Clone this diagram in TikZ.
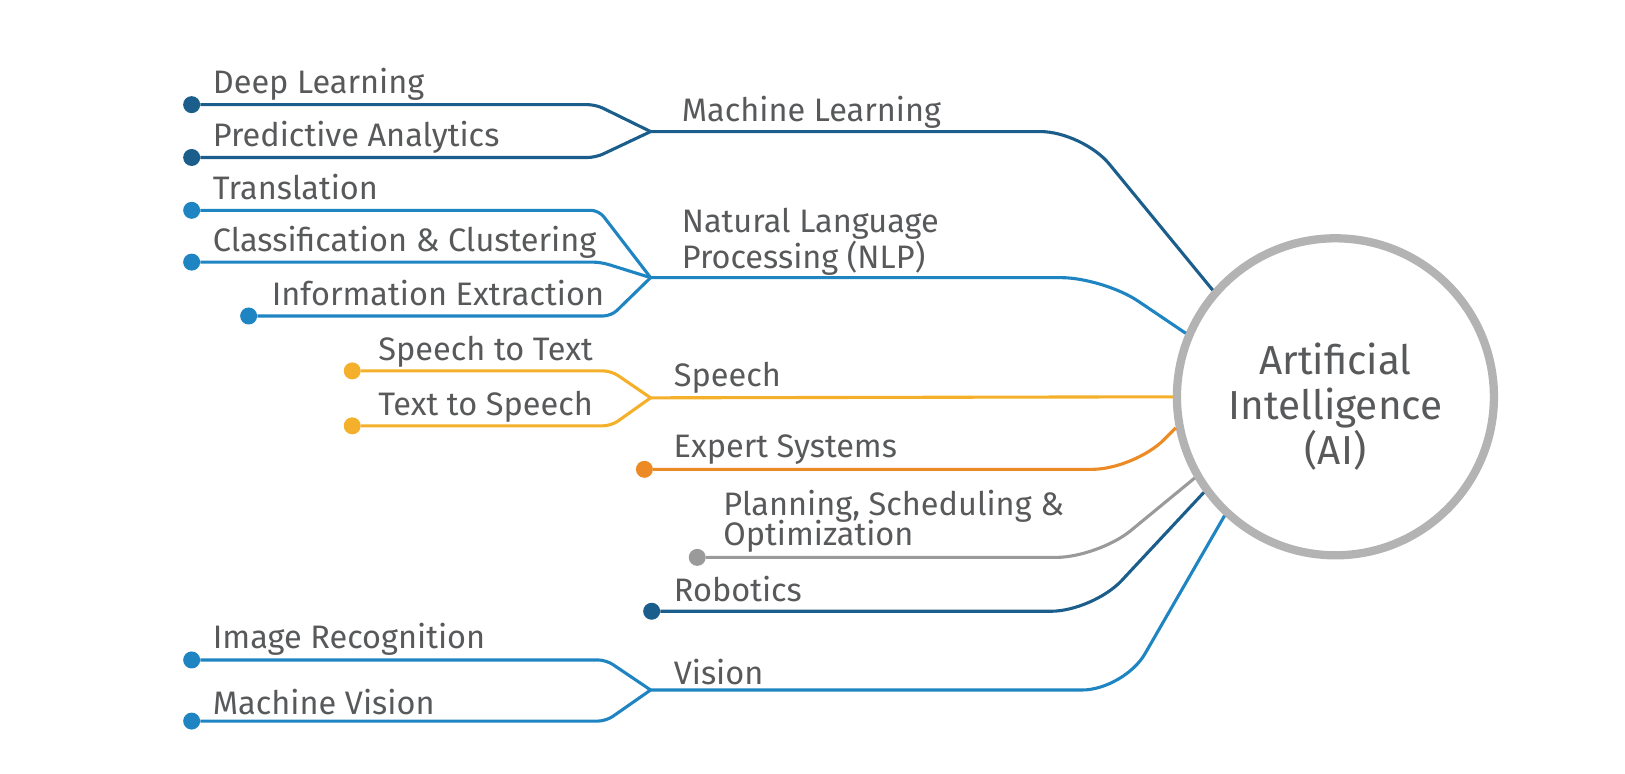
\documentclass[tikz,border=0pt]{standalone}
\usepackage{fontspec}
\setmainfont{Fira Sans}
\usetikzlibrary{positioning,calc}
\definecolor{txtgray}{HTML}{58595B}
\definecolor{dkblue}{HTML}{1B5E8C}
\definecolor{ltblue}{HTML}{1F85C2}
\definecolor{gold}{HTML}{F4B02A}
\definecolor{amber}{HTML}{EC8A25}
\definecolor{midgray}{HTML}{9A9A9A}
\definecolor{hubgray}{HTML}{B3B3B3}
\tikzset{
leaf/.style={circle, fill=#1, inner sep=0pt, minimum size=17pt},
twig/.style={draw=#1, line width=3.1pt, rounded corners=8pt},
branch/.style={draw=#1, line width=3.1pt, rounded corners=42pt},
hub/.style={circle, draw=hubgray, line width=8.3pt, minimum size=317pt, inner sep=0pt},
hubtxt/.style={align=center, inner sep=0pt, text=txtgray, font=\fontsize{40.5}{45}\selectfont},
lbl/.style={anchor=base west, inner sep=0pt, text=txtgray, font=\fontsize{32.5}{36}\selectfont},
}

\begin{document}
\begin{tikzpicture}[x=1.036pt, y=-1.036pt]
\useasboundingbox (0,0) rectangle (1568.5,747);

\node[hub] (ai) at (1289,383) {};
\node[hubtxt] (ai_txt) at ([yshift=-10pt]ai.center) {Artificial\\Intelligence\\(AI)};

% machine learning
\coordinate (ml_join) at (628,127);
\node[leaf=dkblue] (deep_learning) at (185,101) {};
\node[leaf=dkblue] (predictive) at (185,152) {};
\node[lbl] (deep_learning_txt) at ([xshift=21pt,yshift=11pt]deep_learning.center) {Deep Learning};
\node[lbl] (predictive_txt) at ([xshift=21pt,yshift=11pt]predictive.center) {Predictive Analytics};
\node[lbl] (ml_txt) at ([xshift=31pt,yshift=10pt]ml_join) {Machine Learning};
\path[twig=dkblue] (deep_learning) -- ++(390,0) -- (ml_join);
\path[twig=dkblue] (predictive) -- ++(390,0) -- (ml_join);
\path[branch=dkblue] (ml_join) -- ++(417,0) -- (ai.139);

% natural language processing
\coordinate (nlp_join) at (628,268);
\node[leaf=ltblue] (translation) at (185,203) {};
\node[leaf=ltblue] (classification) at (185,253) {};
\node[leaf=ltblue] (extraction) at (240,305) {};
\node[lbl] (translation_txt) at ([xshift=21pt,yshift=11pt]translation.center) {Translation};
\node[lbl] (classification_txt) at ([xshift=21pt,yshift=11pt]classification.center) {Classification \& Clustering};
\node[lbl] (extraction_txt) at ([xshift=23pt,yshift=10pt]extraction.center) {Information Extraction};
\node[lbl, anchor=south west, align=left] (nlp_txt) at ([xshift=31pt,yshift=2pt]nlp_join) {Natural Language\\Processing (NLP)};
\path[twig=ltblue] (translation) -- ++(393,0) -- (nlp_join);
\path[twig=ltblue] (classification) -- ++(395,0) -- (nlp_join);
\path[twig=ltblue] (extraction) -- ++(350,0) -- (nlp_join);
\path[branch=ltblue] (nlp_join) -- ++(437,0) -- (ai.157);

% speech
\coordinate (sp_join) at (628,384);
\node[leaf=gold] (speech_text) at (340,358) {};
\node[leaf=gold] (text_speech) at (340,411) {};
\node[lbl] (speech_text_txt) at ([xshift=26pt,yshift=10pt]speech_text.center) {Speech to Text};
\node[lbl] (text_speech_txt) at ([xshift=26pt,yshift=10pt]text_speech.center) {Text to Speech};
\node[lbl] (sp_txt) at ([xshift=23pt,yshift=11pt]sp_join) {Speech};
\path[twig=gold] (speech_text) -- ++(250,0) -- (sp_join);
\path[twig=gold] (text_speech) -- ++(250,0) -- (sp_join);
\path[branch=gold] (sp_join) -- (ai.180);

% expert systems
\node[leaf=amber] (expert) at (622,453) {};
\node[lbl] (expert_txt) at ([xshift=29pt,yshift=12pt]expert.center) {Expert Systems};
\path[branch=amber] (expert) -- ++(473,0) -- (ai.191);

% planning
\node[leaf=midgray] (planning) at (673,538) {};
\node[lbl, anchor=south west, align=left] (planning_txt) at ([xshift=26pt,yshift=5pt]planning.center) {Planning, Scheduling \&\\[-6pt]Optimization};
\path[branch=midgray] (planning) -- ++(387,0) -- (ai.210);

% robotics
\node[leaf=dkblue] (robotics) at (629,590) {};
\node[lbl] (robotics_txt) at ([xshift=22pt,yshift=10pt]robotics.center) {Robotics};
\path[branch=dkblue] (robotics) -- ++(426,0) -- (ai.216);

% vision
\coordinate (vis_join) at (628,666);
\node[leaf=ltblue] (image_rec) at (185,637) {};
\node[leaf=ltblue] (machine_vis) at (185,696) {};
\node[lbl] (image_rec_txt) at ([xshift=21pt,yshift=11pt]image_rec.center) {Image Recognition};
\node[lbl] (machine_vis_txt) at ([xshift=21pt,yshift=7pt]machine_vis.center) {Machine Vision};
\node[lbl] (vis_txt) at ([xshift=23pt,yshift=6pt]vis_join) {Vision};
\path[twig=ltblue] (image_rec) -- ++(400,0) -- (vis_join);
\path[twig=ltblue] (machine_vis) -- ++(400,0) -- (vis_join);
\path[branch=ltblue] (vis_join) -- ++(457,0) -- (ai.227);

\end{tikzpicture}
\end{document}
